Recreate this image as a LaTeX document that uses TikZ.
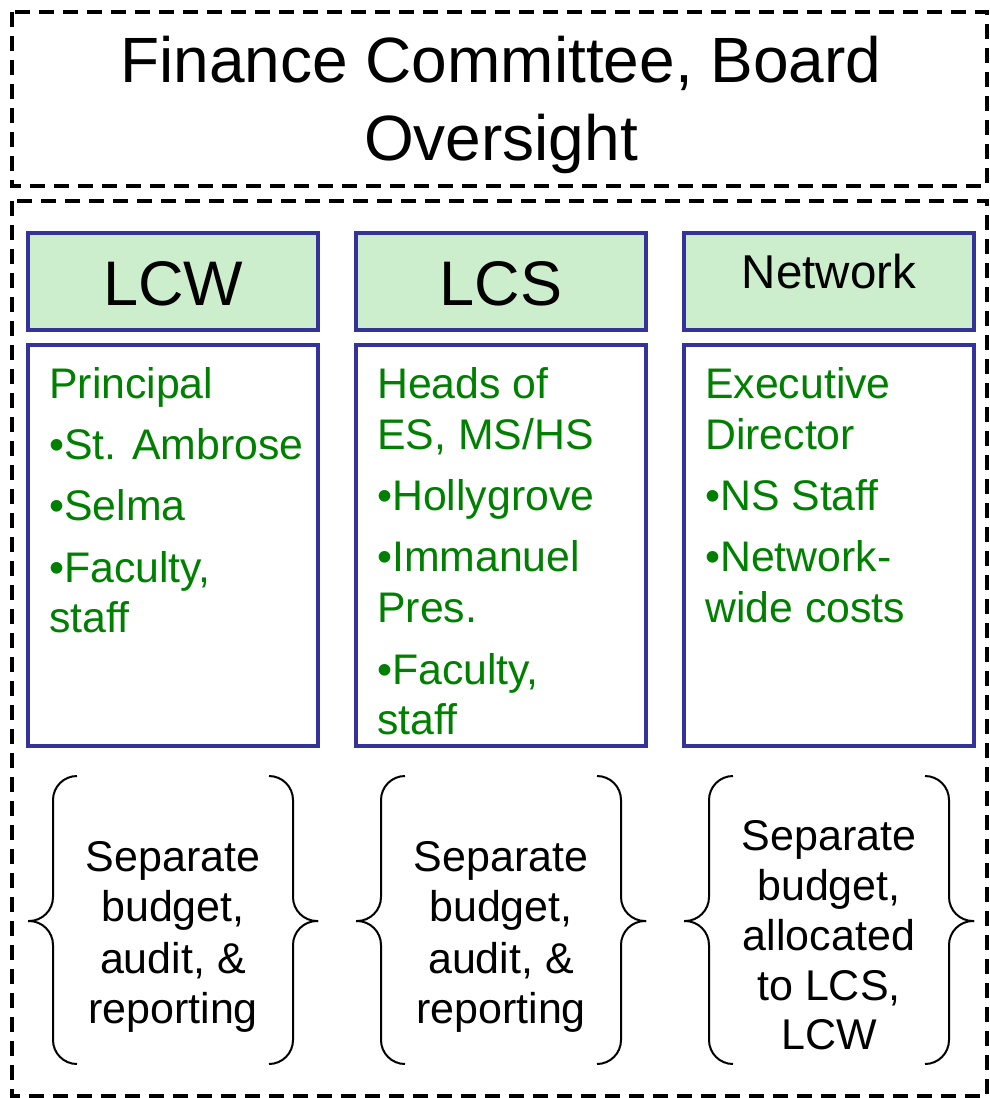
\documentclass[tikz,border=0pt]{standalone}
\usepackage{fontspec}
\setmainfont{Liberation Sans}
\definecolor{boxblue}{RGB}{51,51,153}
\definecolor{headfill}{RGB}{204,238,204}
\definecolor{textgreen}{RGB}{0,128,0}
\begin{document}
\begin{tikzpicture}[x=1pt,y=-1pt,
  frame/.style={draw=black, line width=3.2pt, dash pattern=on 15pt off 9pt},
  headbox/.style={draw=boxblue, fill=headfill, line width=3.5pt},
  bodybox/.style={draw=boxblue, fill=white, line width=3.5pt},
  bracepath/.style={draw=black, line width=2pt, rounded corners=24pt},
  title/.style={anchor=base, inner sep=0pt, font=\fontsize{64}{77}\selectfont},
  headtext/.style={anchor=base, inner sep=0pt},
  item/.style={anchor=base west, inner sep=0pt, text=textgreen, font=\fontsize{42.8}{50}\selectfont},
  note/.style={anchor=base, inner sep=0pt, font=\fontsize{43}{50}\selectfont}]
\useasboundingbox (0,0) rectangle (989,1098);

% outer dashed frames
\draw[frame] (12,12) rectangle (987,186);
\draw[frame] (12,201) rectangle (987,1096);

% title
\node[title] (title1) at (501,82) {Finance Committee, Board};
\node[title] (title2) at (501,160) {Oversight};

% column boxes
\foreach \x in {28,356,684}{
  \draw[headbox] (\x,233) rectangle ({\x+290},330);
  \draw[bodybox] (\x,345) rectangle ({\x+290},746);
  % curly braces around the notes
  \draw[bracepath] ({\x+49},776) -- ({\x+25},776) -- ({\x+25},921) -- (\x,921);
  \draw[bracepath] (\x,921) -- ({\x+25},921) -- ({\x+25},1064) -- ({\x+49},1064);
  \draw[bracepath] ({\x+241},776) -- ({\x+265},776) -- ({\x+265},921) -- ({\x+290},921);
  \draw[bracepath] ({\x+290},921) -- ({\x+265},921) -- ({\x+265},1064) -- ({\x+241},1064);
}

% headers
\node[headtext, font=\fontsize{63}{76}\selectfont] (hlcw) at (173,305) {LCW};
\node[headtext, font=\fontsize{63}{76}\selectfont] (hlcs) at (501,305) {LCS};
\node[headtext, font=\fontsize{47.5}{56}\selectfont] (hnet) at (829,288) {Network};

% LCW contents
\node[item] (a1) at (49,398) {Principal};
\node[item] (a2) at (49,459) {•St. Ambrose};
\node[item] (a3) at (49,520) {•Selma};
\node[item] (a4) at (49,582) {•Faculty,};
\node[item] (a5) at (49,632) {staff};

% LCS contents
\node[item] (b1) at (377,398) {Heads of};
\node[item] (b2) at (377,449) {ES, MS/HS};
\node[item] (b3) at (377,510) {•Hollygrove};
\node[item] (b4) at (377,571) {•Immanuel};
\node[item] (b5) at (377,622) {Pres.};
\node[item] (b6) at (377,684) {•Faculty,};
\node[item] (b7) at (377,734) {staff};

% Network contents
\node[item] (c1) at (705,398) {Executive};
\node[item] (c2) at (705,449) {Director};
\node[item] (c3) at (705,510) {•NS Staff};
\node[item] (c4) at (705,571) {•Network-};
\node[item] (c5) at (705,622) {wide costs};

% notes inside the braces
\node[note] (n1a) at (173,871) {Separate};
\node[note] (n1b) at (173,921) {budget,};
\node[note] (n1c) at (173,973) {audit, \&};
\node[note] (n1d) at (173,1023) {reporting};

\node[note] (n2a) at (501,871) {Separate};
\node[note] (n2b) at (501,921) {budget,};
\node[note] (n2c) at (501,973) {audit, \&};
\node[note] (n2d) at (501,1023) {reporting};

\node[note] (n3a) at (829,850) {Separate};
\node[note] (n3b) at (829,900) {budget,};
\node[note] (n3c) at (829,950) {allocated};
\node[note] (n3d) at (829,1000) {to LCS,};
\node[note] (n3e) at (829,1049) {LCW};
\end{tikzpicture}
\end{document}
